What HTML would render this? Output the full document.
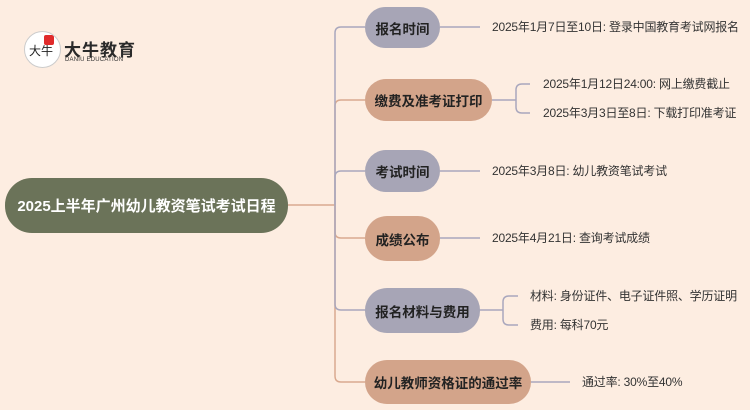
<!DOCTYPE html>
<html><head><meta charset="utf-8"><style>
body{margin:0;width:750px;height:410px;background:#fdede1;position:relative;overflow:hidden;font-family:"Liberation Sans","Noto Sans CJK SC",sans-serif}
.n{position:absolute;border-radius:22px;font-weight:bold;font-size:13.5px;color:#222;display:flex;align-items:center;justify-content:center;white-space:nowrap}
.g{background:#a7a5b6}.t{background:#d3a48a}
.tx{position:absolute;font-size:12px;color:#333;white-space:nowrap;line-height:16px;letter-spacing:-0.2px}
</style></head><body>
<svg width="750" height="410" style="position:absolute;left:0;top:0" fill="none" stroke-width="1.5">
<g stroke="#d9a98f">
<path d="M288 205 H335"/>
<path d="M335 205 V106 Q335 100 341 100 H365"/>
<path d="M335 205 V232 Q335 238 341 238 H365"/>
<path d="M335 205 V376 Q335 382 341 382 H365"/>
</g>
<g stroke="#a9a7bd">
<path d="M335 205 V33 Q335 27 341 27 H365"/>
<path d="M335 205 V177 Q335 171 341 171 H365"/>
<path d="M335 205 V304 Q335 310 341 310 H365"/>
<path d="M440 27 H480"/>
<path d="M492 100 H516 M530 84 H522 Q516 84 516 90 V107 Q516 113 522 113 H530"/>
<path d="M440 171 H480"/>
<path d="M440 238 H480"/>
<path d="M479 310 H503 M518 296 H509 Q503 296 503 302 V319 Q503 325 509 325 H518"/>
<path d="M531 382 H570"/>
</g>
</svg>
<div style="position:absolute;left:24px;top:31px;width:35px;height:35px;border-radius:50%;background:#fff;border:1px solid #ccc;overflow:hidden"><div style="position:absolute;right:6px;top:3px;width:10px;height:10px;background:#e02b2b;border-radius:2px"></div><div style="font-size:12px;color:#222;margin-top:10px;margin-left:4px">大牛</div></div>
<div style="position:absolute;left:64px;top:36px;font-size:17px;font-weight:bold;color:#2a2a2a;letter-spacing:1px">大牛教育</div>
<div style="position:absolute;left:65px;top:57px;font-size:6px;color:#333;letter-spacing:0.2px">DANIU EDUCATION</div>
<div class="n" style="left:5px;top:178px;width:283px;height:55px;background:#6b7359;color:#fff;font-size:15px;border-radius:27px">2025上半年广州幼儿教资笔试考试日程</div>
<div class="n g" style="left:365px;top:7px;width:75px;height:41px">报名时间</div>
<div class="n t" style="left:365px;top:79px;width:127px;height:42px">缴费及准考证打印</div>
<div class="n g" style="left:365px;top:150px;width:75px;height:42px">考试时间</div>
<div class="n t" style="left:365px;top:216px;width:75px;height:45px">成绩公布</div>
<div class="n g" style="left:365px;top:288px;width:115px;height:45px">报名材料与费用</div>
<div class="n t" style="left:365px;top:360px;width:166px;height:44px">幼儿教师资格证的通过率</div>
<div class="tx" style="left:492px;top:19px">2025年1月7日至10日: 登录中国教育考试网报名</div>
<div class="tx" style="left:543px;top:76px">2025年1月12日24:00: 网上缴费截止</div>
<div class="tx" style="left:543px;top:105px">2025年3月3日至8日: 下载打印准考证</div>
<div class="tx" style="left:492px;top:163px">2025年3月8日: 幼儿教资笔试考试</div>
<div class="tx" style="left:492px;top:230px">2025年4月21日: 查询考试成绩</div>
<div class="tx" style="left:530px;top:288px">材料: 身份证件、电子证件照、学历证明</div>
<div class="tx" style="left:530px;top:317px">费用: 每科70元</div>
<div class="tx" style="left:582px;top:374px">通过率: 30%至40%</div>
</body></html>
